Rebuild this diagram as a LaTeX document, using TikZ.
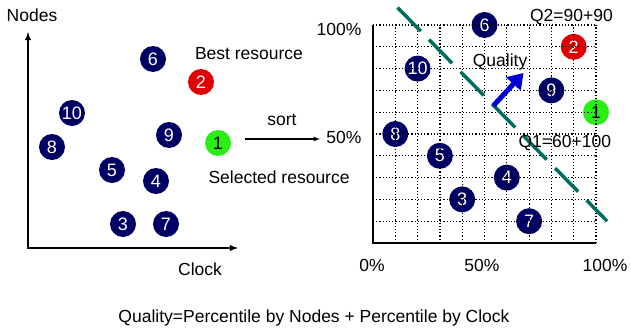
\documentclass[tikz,border=0pt]{standalone}
\usepackage{fontspec}
\setmainfont{Liberation Sans}
\usetikzlibrary{arrows.meta}

\definecolor{navy}{RGB}{0,0,100}
\definecolor{bestred}{RGB}{225,0,0}
\definecolor{selgreen}{RGB}{40,240,20}
\definecolor{cutteal}{RGB}{0,110,95}
\definecolor{qblue}{RGB}{0,0,210}

\begin{document}
\begin{tikzpicture}[x=1pt, y=-1pt, >=latex,
  every node/.style={font=\fontsize{17.5}{20}\selectfont},
  res/.style={circle, fill=navy, text=white, minimum size=26pt, inner sep=0pt,
    font=\fontsize{18}{20}\selectfont},
  best/.style={res, fill=bestred},
  sel/.style={res, fill=selgreen, text=black}]
\useasboundingbox (0,0) rectangle (631,332);

% left: resources by nodes and clock
\coordinate (ytop) at (28,32);
\coordinate (xend) at (238,248);
\draw[<->, line width=1.8pt] (ytop) |- (xend);
\node (nodes) at (32,15) {Nodes};
\node (clock) at (200,269) {Clock};
\foreach \n/\x/\y in {6/153/59, 10/72/113, 9/169/135, 8/52/147,
                      5/112/170, 4/156/181, 3/123/224, 7/166/224}
  \node[res] (l\n) at (\x,\y) {\n};
\node[best] (l2) at (201,82) {2};
\node[sel] (l1) at (218,143) {1};
\node (bestlbl) at (249,54) {Best resource};
\node[anchor=west] (sellbl) at (205,177) {Selected resource};

% sort
\coordinate (sortfrom) at (245,139);
\coordinate (sortto) at (320,139);
\draw[->, line width=1.2pt] (sortfrom) -- (sortto);
\node (sort) at (282,120) {sort};

% right: percentiles
\begin{scope}[shift={(373,243)}, x=2.23pt, y=2.18pt]
  \foreach \n/\x/\y in {6/50/100, 10/20/80, 9/80/70, 8/10/50,
                        5/30/40, 4/60/30, 3/40/20, 7/70/10}
    \node[res] (r\n) at (\x,\y) {\n};
  \node[best] (r2) at (90,90) {2};
  \node[sel] (r1) at (100,60) {1};
  \foreach \p in {10,20,...,100} {
    \draw[dotted, line width=1.2pt] (\p,0) -- (\p,100);
    \draw[dotted, line width=1.2pt] (0,\p) -- (100,\p);
  }
  \draw[line width=1.8pt] (0,100) -- (0,0) -- (100,0);
  \coordinate (cuta) at (11,108);
  \coordinate (cutb) at (105,10);
  \draw[cutteal, line width=3.5pt, dash pattern=on 33pt off 12pt] (cuta) -- (cutb);
  \coordinate (qstart) at (54,63);
  \coordinate (qend) at (67.5,78);
  \draw[qblue, line width=5pt, -{Triangle[length=15pt,width=19pt]}] (qstart) -- (qend);
  \node (qual) at (57,83) {Quality};
  \node (q2) at (89,103.7) {Q2=90+90};
  \node (q1) at (86,46) {Q1=60+100};
\end{scope}
\node[anchor=east] (p100) at (365,29) {100\%};
\node[anchor=east] (p50) at (365,137) {50\%};
\node (px0) at (372,265) {0\%};
\node (px50) at (482,265) {50\%};
\node (px100) at (605,265) {100\%};

\node (formula) at (314,318) {Quality=Percentile by Nodes + Percentile by Clock};
\end{tikzpicture}
\end{document}
